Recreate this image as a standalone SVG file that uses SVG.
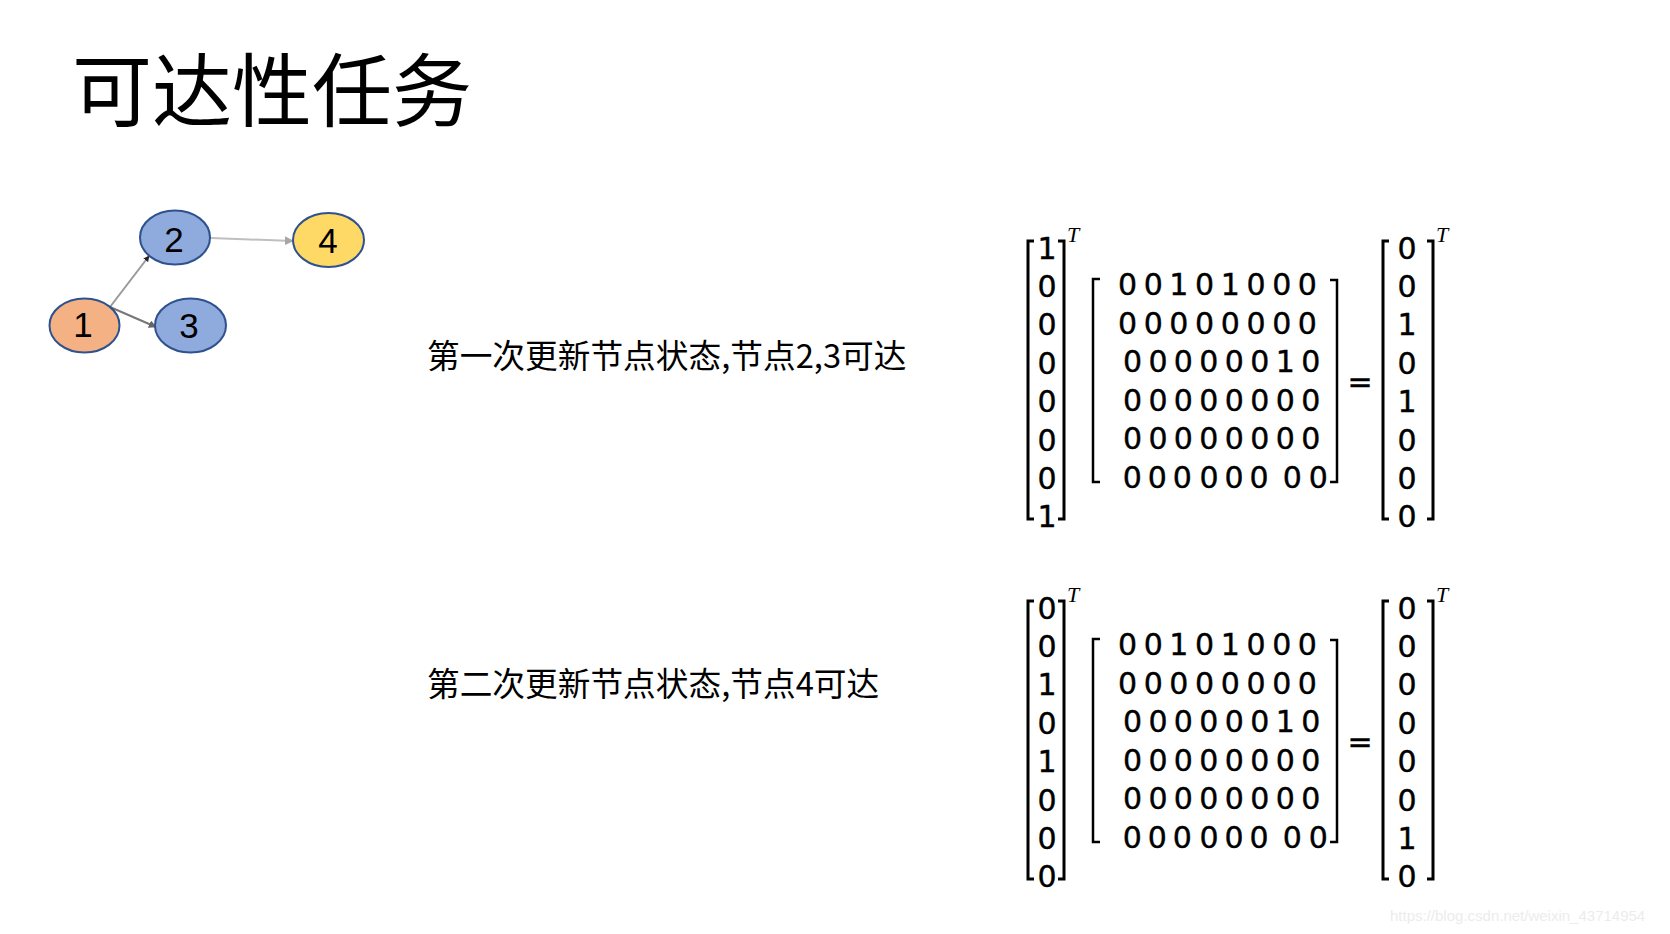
<svg xmlns="http://www.w3.org/2000/svg" width="1670" height="934" viewBox="0 0 1670 934">
  <style>
    .title { font-family: "Noto Sans CJK SC", "Noto Sans", sans-serif; font-size: 80px; fill: #000; }
    .label { font-family: "Noto Sans CJK SC", "Noto Sans", sans-serif; font-size: 32.7px; fill: #000; }
    .node { stroke: #2F528F; stroke-width: 2; }
    .nlabel { font-family: "Liberation Sans", Arial, sans-serif; font-size: 35px; fill: #000; text-anchor: middle; }
    .num { font-family: "DejaVu Sans", sans-serif; font-size: 30px; fill: #000; stroke: #000; stroke-width: 0.4; text-anchor: middle; }
    .sup { font-family: "Liberation Serif", serif; font-style: italic; font-size: 22px; fill: #000; }
    .vbr { fill: none; stroke: #000; stroke-width: 3; }
    .mbr { fill: none; stroke: #000; stroke-width: 2.5; }
    .wm { font-family: "Liberation Sans", Arial, sans-serif; font-size: 15px; fill: #ececec; }
  </style>
  <defs>
    <marker id="headDark" viewBox="0 0 10 10" refX="9" refY="5" markerWidth="6" markerHeight="6" orient="auto" markerUnits="userSpaceOnUse">
      <path d="M0,0 L10,5 L0,10 z" fill="#222"/>
    </marker>
    <marker id="headMid" viewBox="0 0 10 10" refX="9" refY="5" markerWidth="8" markerHeight="8" orient="auto" markerUnits="userSpaceOnUse">
      <path d="M0,0 L10,5 L0,10 z" fill="#666"/>
    </marker>
    <marker id="headLight" viewBox="0 0 10 10" refX="9" refY="5" markerWidth="9" markerHeight="9" orient="auto" markerUnits="userSpaceOnUse">
      <path d="M0,0 L10,5 L0,10 z" fill="#a6a6a6"/>
    </marker>

    <!-- 6x8 transition matrix, shared by both steps -->
    <g id="matrix">
      <path class="mbr" d="M1100,279 H1093 V482 H1100"/>
      <path class="mbr" d="M1330,280 H1337 V482 H1330"/>
      <text class="num" x="1127.5 1153.2 1178.9 1204.6 1230.3 1256 1281.7 1307.4" y="295">00101000</text>
      <text class="num" x="1127.5 1153.2 1178.9 1204.6 1230.3 1256 1281.7 1307.4" y="333.5">00000000</text>
      <text class="num" x="1132.5 1158 1183.4 1208.9 1234.4 1259.9 1285.3 1310.8" y="372">00000010</text>
      <text class="num" x="1132.5 1158 1183.4 1208.9 1234.4 1259.9 1285.3 1310.8" y="410.5">00000000</text>
      <text class="num" x="1132.5 1158 1183.4 1208.9 1234.4 1259.9 1285.3 1310.8" y="449">00000000</text>
      <text class="num" x="1132.3 1157.3 1182.3 1209 1234 1259 1292.3 1318.3" y="487.5">00000000</text>
      <text class="num" x="1360" y="392">=</text>
      <!-- vector brackets -->
      <path class="vbr" d="M1034,241 H1028 V519 H1034"/>
      <path class="vbr" d="M1058,241 H1064 V519 H1058"/>
      <path class="vbr" d="M1389,241 H1383 V519 H1389"/>
      <path class="vbr" d="M1427,241 H1433 V519 H1427"/>
      <text class="sup" x="1067" y="242">T</text>
      <text class="sup" x="1436" y="242">T</text>
    </g>
  </defs>

  <rect width="1670" height="934" fill="#fff"/>

  <text class="title" x="72" y="120">可达性任务</text>

  <!-- graph edges -->
  <g id="connectors">
    <line x1="110" y1="307" x2="149" y2="256" stroke="#999" stroke-width="2" marker-end="url(#headDark)"/>
    <line x1="110" y1="307" x2="156" y2="327" stroke="#777" stroke-width="2" marker-end="url(#headMid)"/>
    <line x1="211" y1="238" x2="293" y2="241" stroke="#bfbfbf" stroke-width="2" marker-end="url(#headLight)"/>
  </g>

  <!-- graph nodes -->
  <g id="node1">
    <ellipse class="node" cx="84.5" cy="325.5" rx="35" ry="27" fill="#F4B183"/>
    <text class="nlabel" x="83" y="337">1</text>
  </g>
  <g id="node2">
    <ellipse class="node" cx="175" cy="237.5" rx="35" ry="27" fill="#8FAADC"/>
    <text class="nlabel" x="174" y="252">2</text>
  </g>
  <g id="node3">
    <ellipse class="node" cx="190.5" cy="325.5" rx="35.5" ry="27" fill="#8FAADC"/>
    <text class="nlabel" x="189" y="337.5">3</text>
  </g>
  <g id="node4">
    <ellipse class="node" cx="328.5" cy="240" rx="35.5" ry="27" fill="#FFD966" stroke-width="2.5"/>
    <text class="nlabel" x="328" y="252.5">4</text>
  </g>

  <!-- step captions -->
  <text class="label" x="427" y="368">第一次更新节点状态,节点2,3可达</text>
  <text class="label" x="427" y="696">第二次更新节点状态,节点4可达</text>

  <!-- step 1: state vector x matrix = next state -->
  <g id="step1">
    <use href="#matrix"/>
    <text class="num" x="1047" y="258.5">1</text>
    <text class="num" x="1047" y="297">0</text>
    <text class="num" x="1047" y="335">0</text>
    <text class="num" x="1047" y="373.5">0</text>
    <text class="num" x="1047" y="412">0</text>
    <text class="num" x="1047" y="450.5">0</text>
    <text class="num" x="1047" y="489">0</text>
    <text class="num" x="1047" y="527">1</text>
    <text class="num" x="1407" y="258.5">0</text>
    <text class="num" x="1407" y="297">0</text>
    <text class="num" x="1407" y="335">1</text>
    <text class="num" x="1407" y="373.5">0</text>
    <text class="num" x="1407" y="412">1</text>
    <text class="num" x="1407" y="450.5">0</text>
    <text class="num" x="1407" y="489">0</text>
    <text class="num" x="1407" y="527">0</text>
  </g>

  <!-- step 2 -->
  <g id="step2" transform="translate(0,360)">
    <use href="#matrix"/>
    <text class="num" x="1047" y="258.5">0</text>
    <text class="num" x="1047" y="297">0</text>
    <text class="num" x="1047" y="335">1</text>
    <text class="num" x="1047" y="373.5">0</text>
    <text class="num" x="1047" y="412">1</text>
    <text class="num" x="1047" y="450.5">0</text>
    <text class="num" x="1047" y="489">0</text>
    <text class="num" x="1047" y="527">0</text>
    <text class="num" x="1407" y="258.5">0</text>
    <text class="num" x="1407" y="297">0</text>
    <text class="num" x="1407" y="335">0</text>
    <text class="num" x="1407" y="373.5">0</text>
    <text class="num" x="1407" y="412">0</text>
    <text class="num" x="1407" y="450.5">0</text>
    <text class="num" x="1407" y="489">1</text>
    <text class="num" x="1407" y="527">0</text>
  </g>

  <text class="wm" x="1390" y="921">https://blog.csdn.net/weixin_43714954</text>
</svg>
